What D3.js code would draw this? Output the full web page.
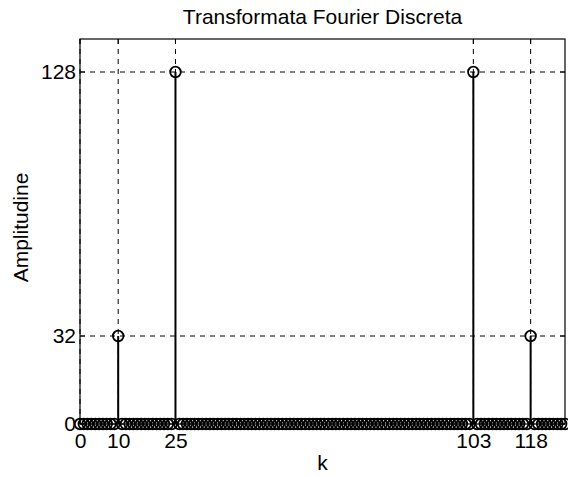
<!DOCTYPE html>
<html><head><meta charset="utf-8">
<script src="https://cdn.jsdelivr.net/npm/d3@7"></script>
<style>body{margin:0;background:#fff}svg{display:block}text{font-family:"Liberation Sans",Arial,sans-serif;fill:#000}</style>
</head><body><svg id="c" width="568" height="477"></svg>
<script>
const kValues = [0,1,2,3,4,5,6,7,8,9,10,11,12,13,14,15,16,17,18,19,20,21,22,23,24,25,26,27,28,29,30,31,
32,33,34,35,36,37,38,39,40,41,42,43,44,45,46,47,48,49,50,51,52,53,54,55,56,57,58,59,60,61,62,63,
64,65,66,67,68,69,70,71,72,73,74,75,76,77,78,79,80,81,82,83,84,85,86,87,88,89,90,91,92,93,94,95,
96,97,98,99,100,101,102,103,104,105,106,107,108,109,110,111,112,113,114,115,116,117,118,119,120,121,122,123,124,125,126,127];
const amplitudes = [0,0,0,0,0,0,0,0,0,0,32,0,0,0,0,0,0,0,0,0,0,0,0,0,0,128,0,0,0,0,0,0,
0,0,0,0,0,0,0,0,0,0,0,0,0,0,0,0,0,0,0,0,0,0,0,0,0,0,0,0,0,0,0,0,
0,0,0,0,0,0,0,0,0,0,0,0,0,0,0,0,0,0,0,0,0,0,0,0,0,0,0,0,0,0,0,0,
0,0,0,0,0,0,0,128,0,0,0,0,0,0,0,0,0,0,0,0,0,0,32,0,0,0,0,0,0,0,0,0];
const xTicks = [0,10,25,103,118];
const yTicks = [0,32,128];
const xDomain = [0,127];
const yDomain = [0,140];
const titleText = "Transformata Fourier Discreta";
const xLabel = "k";
const yLabel = "Amplitudine";

const svg = d3.select("#c");
const L=80,R=565,T=39,B=424;
const x = d3.scaleLinear().domain(xDomain).range([L,R]);
const y = d3.scaleLinear().domain(yDomain).range([B,T]);
const fs = 21;

// grid
const g = svg.append("g");
g.selectAll(".gx").data(xTicks).join("line")
  .attr("x1",d=>x(d)).attr("x2",d=>x(d)).attr("y1",T).attr("y2",B)
  .attr("stroke","#000").attr("stroke-width",1).attr("stroke-dasharray","5,5");
g.selectAll(".gy").data(yTicks).join("line")
  .attr("x1",L).attr("x2",R).attr("y1",d=>y(d)).attr("y2",d=>y(d))
  .attr("stroke","#000").attr("stroke-width",1).attr("stroke-dasharray","5,5");

// axes
const xAxis = d3.axisBottom(x).tickValues(xTicks).tickSize(0).tickPadding(9).tickFormat(d3.format("d"));
const yAxis = d3.axisLeft(y).tickValues(yTicks).tickSize(0).tickPadding(4).tickFormat(d3.format("d"));
const ax = svg.append("g").attr("transform",`translate(0,${B})`).call(xAxis);
const ay = svg.append("g").attr("transform",`translate(${L},0)`).call(yAxis);
[ax,ay].forEach(a=>{a.select(".domain").remove();a.selectAll("text").attr("font-size",fs).attr("font-family","Liberation Sans, Arial, sans-serif").attr("fill","#000");});

// inner tick marks
const tl=5;
svg.append("g").selectAll("line").data(xTicks).join("line")
  .attr("x1",d=>x(d)).attr("x2",d=>x(d)).attr("y1",B).attr("y2",B-tl).attr("stroke","#000");
svg.append("g").selectAll("line").data(xTicks).join("line")
  .attr("x1",d=>x(d)).attr("x2",d=>x(d)).attr("y1",T).attr("y2",T+tl).attr("stroke","#000");
svg.append("g").selectAll("line").data(yTicks).join("line")
  .attr("x1",L).attr("x2",L+tl).attr("y1",d=>y(d)).attr("y2",d=>y(d)).attr("stroke","#000");
svg.append("g").selectAll("line").data(yTicks).join("line")
  .attr("x1",R).attr("x2",R-tl).attr("y1",d=>y(d)).attr("y2",d=>y(d)).attr("stroke","#000");

// box
svg.append("rect").attr("x",L).attr("y",T).attr("width",R-L).attr("height",B-T)
  .attr("fill","none").attr("stroke","#000").attr("stroke-width",1.2);

// stems
const data = kValues.map((k,i)=>({k,v:amplitudes[i]}));
svg.append("g").selectAll("line").data(data).join("line")
  .attr("x1",d=>x(d.k)).attr("x2",d=>x(d.k)).attr("y1",y(0)).attr("y2",d=>y(d.v))
  .attr("stroke","#000").attr("stroke-width",2);
svg.append("g").selectAll("circle").data(data).join("circle")
  .attr("cx",d=>x(d.k)).attr("cy",d=>y(d.v)).attr("r",5.3)
  .attr("fill","none").attr("stroke","#000").attr("stroke-width",1.8);

// labels
svg.append("text").attr("x",(L+R)/2).attr("y",24).attr("text-anchor","middle").attr("font-size",fs).text(titleText);
svg.append("text").attr("x",(L+R)/2).attr("y",470).attr("text-anchor","middle").attr("font-size",fs).text(xLabel);
svg.append("text").attr("transform",`translate(28,${(T+B)/2 - 4}) rotate(-90)`).attr("text-anchor","middle").attr("font-size",fs).text(yLabel);
</script></body></html>
